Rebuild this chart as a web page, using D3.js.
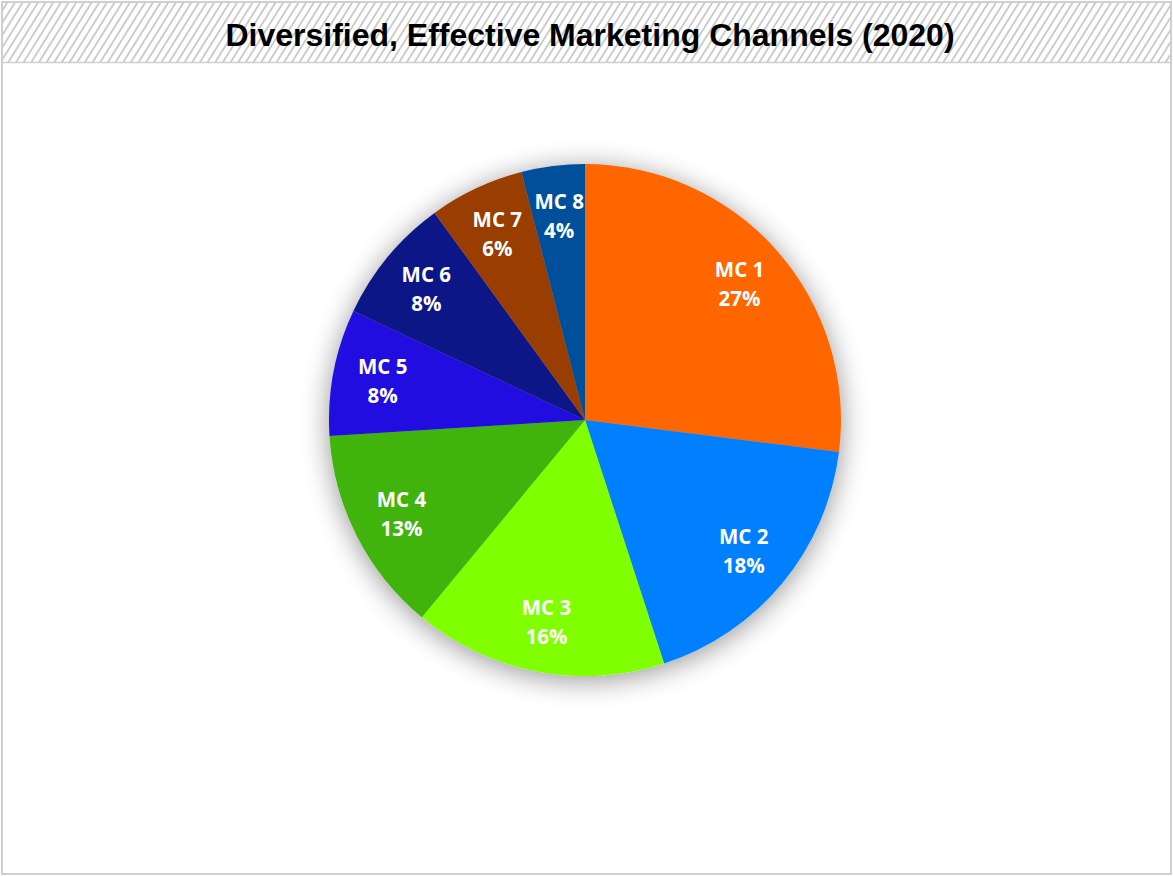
<!DOCTYPE html>
<html>
<head>
<meta charset="utf-8">
<script src="https://cdn.jsdelivr.net/npm/d3@7"></script>
<style>
  html, body { margin: 0; padding: 0; background: #fff; }
  svg { display: block; }
</style>
</head>
<body>
<svg id="chart" width="1173" height="876"></svg>
<script>
// Marketing channel shares, 2020 (percent)
const channels = ["MC 1", "MC 2", "MC 3", "MC 4", "MC 5", "MC 6", "MC 7", "MC 8"];
const shares   = [27, 18, 16, 13, 8, 8, 6, 4];
const colors   = ["#FF6600", "#0080FF", "#80FF00", "#40B308", "#2110E0", "#101487", "#993D00", "#004F9B"];
const titleText = "Diversified, Effective Marketing Channels (2020)";

const W = 1173, H = 876;
const svg = d3.select("#chart");
const defs = svg.append("defs");

// diagonal hatch for the title band
const hatch = defs.append("pattern")
  .attr("id", "hatch")
  .attr("patternUnits", "userSpaceOnUse")
  .attr("width", 6.5).attr("height", 12)
  .attr("patternTransform", "rotate(32)");
hatch.append("line")
  .attr("x1", 1).attr("y1", 0).attr("x2", 1).attr("y2", 12)
  .attr("stroke", "#b4b4b4").attr("stroke-width", 1.3);

// soft glow under the pie
const glow = defs.append("filter")
  .attr("id", "glow")
  .attr("x", "-35%").attr("y", "-35%").attr("width", "170%").attr("height", "170%");
glow.append("feGaussianBlur").attr("in", "SourceAlpha").attr("stdDeviation", 14).attr("result", "b");
glow.append("feOffset").attr("in", "b").attr("dx", 0).attr("dy", 4).attr("result", "o");
glow.append("feComponentTransfer").attr("in", "o").attr("result", "s")
  .append("feFuncA").attr("type", "linear").attr("slope", 0.42);
const merge = glow.append("feMerge");
merge.append("feMergeNode").attr("in", "s");
merge.append("feMergeNode").attr("in", "SourceGraphic");

// frame
svg.append("rect")
  .attr("x", 2).attr("y", 2).attr("width", W - 4).attr("height", H - 4)
  .attr("fill", "#fff").attr("stroke", "#cfcfcf").attr("stroke-width", 2);

// title band
svg.append("rect")
  .attr("x", 3).attr("y", 3).attr("width", W - 6).attr("height", 59)
  .attr("fill", "url(#hatch)");
svg.append("line")
  .attr("x1", 3).attr("x2", W - 3).attr("y1", 62.5).attr("y2", 62.5)
  .attr("stroke", "#cfcfcf").attr("stroke-width", 1.5);
svg.append("text")
  .attr("x", 590).attr("y", 35)
  .attr("text-anchor", "middle").attr("dominant-baseline", "central")
  .attr("font-family", "'Liberation Sans', Arial, sans-serif")
  .attr("font-weight", "bold").attr("font-size", 32)
  .attr("fill", "#000")
  .text(titleText);

// pie
const cx = 585, cy = 420, R = 256;
const data = channels.map((c, i) => ({ name: c, value: shares[i], color: colors[i] }));
const pie = d3.pie().value(d => d.value).sort(null).startAngle(0).endAngle(2 * Math.PI);
const arcs = pie(data);
const arc = d3.arc().innerRadius(0).outerRadius(R);
const labelArc = d3.arc().innerRadius(206).outerRadius(206);
const total = d3.sum(shares);

const g = svg.append("g").attr("transform", `translate(${cx},${cy})`);
const slices = g.append("g").attr("filter", "url(#glow)");
slices.selectAll("path")
  .data(arcs)
  .join("path")
  .attr("d", arc)
  .attr("fill", d => d.data.color);

const labels = g.append("g")
  .attr("font-family", "'Open Sans', 'Noto Sans', sans-serif")
  .attr("font-weight", "bold")
  .attr("font-size", 20.5)
  .attr("fill", "#fff")
  .attr("text-anchor", "middle");

labels.selectAll("text")
  .data(arcs)
  .join("text")
  .attr("transform", d => `translate(${labelArc.centroid(d)})`)
  .each(function (d) {
    const t = d3.select(this);
    t.append("tspan").attr("x", 0).attr("y", -7).text(d.data.name);
    t.append("tspan").attr("x", 0).attr("y", 22)
      .text(d3.format(".0%")(d.data.value / total));
  });
</script>
</body>
</html>
